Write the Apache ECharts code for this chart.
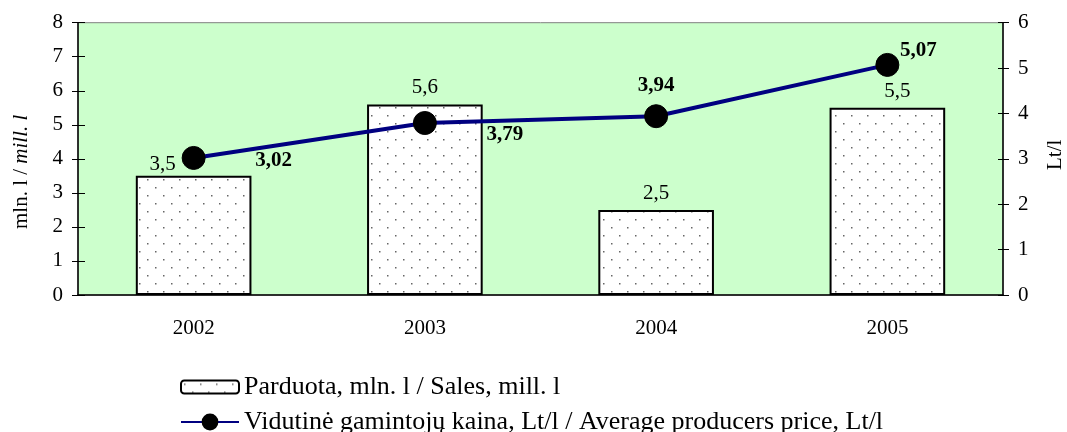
<!DOCTYPE html>
<html><head><meta charset="utf-8">
<script src="https://cdn.jsdelivr.net/npm/echarts@6/dist/echarts.min.js"></script>
<style>html,body{margin:0;padding:0;background:#fff}#c{width:1067px;height:432px}</style>
</head><body><div id="c"></div>
<script>
const years = ['2002','2003','2004','2005'];
const sales = [3.5, 5.6, 2.5, 5.5];
const price = [3.02, 3.79, 3.94, 5.07];
const leftTicks = [0,1,2,3,4,5,6,7,8];
const rightTicks = [0,1,2,3,4,5,6];
const salesName = 'Parduota, mln. l / Sales, mill. l';
const priceName = 'Vidutinė gamintojų kaina, Lt/l / Average producers price, Lt/l';

const FONT = '"Liberation Serif","Times New Roman",serif';
const FS = 21;
const fmt = v => String(v).replace('.', ',');

// dotted pattern
const pc = document.createElement('canvas');
pc.width = 16; pc.height = 16;
const px = pc.getContext('2d');
px.fillStyle = '#ffffff'; px.fillRect(0,0,16,16);
px.fillStyle = '#666666';
px.fillRect(3,3,1.5,1.5); px.fillRect(11,11,1.5,1.5);
const pattern = {image: pc, repeat: 'repeat'};

const priceLabelStyle = [
  {position: 'inside', offset: [80, 3]},
  {position: 'inside', offset: [80, 12]},
  {position: 'inside', offset: [0, -31]},
  {position: 'inside', offset: [31, -14]}
];
const salesLabelStyle = [
  {offset: [-31, 5]}, {}, {}, {offset: [10, 0]}
];

const chart = echarts.init(document.getElementById('c'));
const axisText = {fontFamily: FONT, fontSize: FS, color: '#000'};
const legendText = {fontFamily: FONT, fontSize: 26, color: '#000'};
chart.setOption({
  animation: false,
  textStyle: {fontFamily: FONT},
  grid: {left: 78, right: 64, top: 22.7, bottom: 137, show: true, containLabel: false,
         outerBoundsMode: 'none',
         backgroundColor: '#CCFFCC', borderColor: '#808080', borderWidth: 1},
  legend: [
    {orient: 'vertical', left: 175, top: 369, itemWidth: 58, itemHeight: 13,
     textStyle: legendText, data: [salesName]},
    {orient: 'vertical', left: 175, top: 404, itemWidth: 58, itemHeight: 21,
     textStyle: legendText, data: [priceName]}
  ],
  xAxis: [
    {type: 'category', data: years,
     axisLine: {lineStyle: {color: '#000', width: 1.5}},
     axisTick: {length: 6, lineStyle: {color: '#000'}},
     axisLabel: Object.assign({margin: 23}, axisText)},
    {type: 'category', data: years, position: 'bottom',
     axisLine: {show: false},
     axisTick: {inside: true, length: 7, lineStyle: {color: '#000'}},
     axisLabel: {show: false}}
  ],
  yAxis: [
    {type: 'value', min: leftTicks[0], max: leftTicks[leftTicks.length-1], interval: 1,
     position: 'left', splitLine: {show: false},
     axisLine: {show: true, lineStyle: {color: '#000', width: 1.5}},
     axisTick: {show: true, length: 6, lineStyle: {color: '#000'}},
     axisLabel: Object.assign({margin: 15}, axisText),
     name: '{n|mln. l / }{i|mill. l}', nameLocation: 'middle', nameRotate: 90, nameGap: 46,
     nameTextStyle: {padding: [0, 26, 0, 0],
                     rich: {n: {fontFamily: FONT, fontSize: FS, color: '#000'},
                            i: {fontFamily: FONT, fontSize: FS, fontStyle: 'italic', color: '#000'}}}},
    {type: 'value', min: rightTicks[0], max: rightTicks[rightTicks.length-1], interval: 1,
     position: 'right', splitLine: {show: false},
     axisLine: {show: true, lineStyle: {color: '#000', width: 1.5}},
     axisTick: {show: true, length: 6, lineStyle: {color: '#000'}},
     axisLabel: Object.assign({margin: 15}, axisText),
     name: 'Lt/l', nameLocation: 'middle', nameRotate: 90, nameGap: 42,
     nameTextStyle: {fontFamily: FONT, fontSize: FS, color: '#000', padding: [0, 0, 0, 8]}},
    {type: 'value', min: leftTicks[0], max: leftTicks[leftTicks.length-1], interval: 1,
     position: 'left', splitLine: {show: false}, axisLine: {show: false},
     axisTick: {show: true, inside: true, length: 7, lineStyle: {color: '#000'}},
     axisLabel: {show: false}},
    {type: 'value', min: rightTicks[0], max: rightTicks[rightTicks.length-1], interval: 1,
     position: 'right', splitLine: {show: false}, axisLine: {show: false},
     axisTick: {show: true, inside: true, length: 5, lineStyle: {color: '#000'}},
     axisLabel: {show: false}}
  ],
  series: [
    {name: salesName, type: 'bar', yAxisIndex: 0, barWidth: '50%',
     itemStyle: {color: pattern, borderColor: '#000', borderWidth: 2},
     label: {show: true, position: 'top', distance: 6, fontFamily: FONT, fontSize: FS, color: '#000',
             formatter: p => fmt(p.value)},
     data: sales.map((v, i) => ({value: v, label: salesLabelStyle[i]}))},
    {name: priceName, type: 'line', yAxisIndex: 1, symbol: 'circle', symbolSize: 23,
     lineStyle: {color: '#000080', width: 4},
     itemStyle: {color: '#000', borderColor: '#000'},
     label: {show: true, fontFamily: FONT, fontSize: FS, fontWeight: 'bold', color: '#000',
             formatter: p => fmt(p.value.toFixed(2))},
     data: price.map((v, i) => ({value: v, label: priceLabelStyle[i]}))}
  ]
});
</script></body></html>
